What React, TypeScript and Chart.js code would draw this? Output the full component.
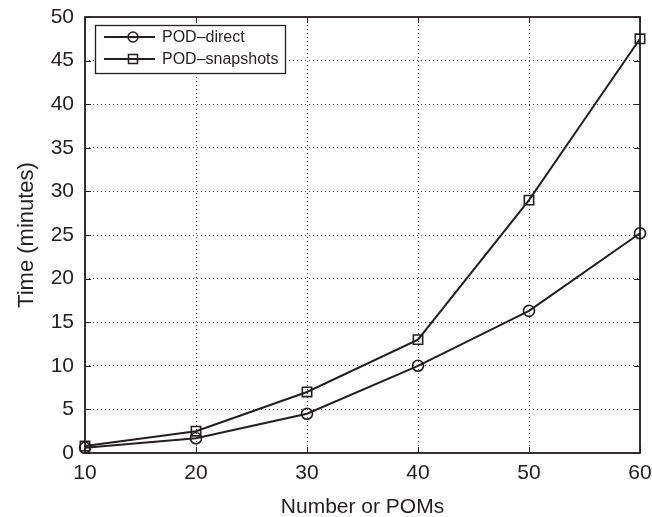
import React, { useEffect, useRef } from "react";
import { Chart, registerables } from "chart.js";

Chart.register(...registerables);

const xValues = [10, 20, 30, 40, 50, 60];
const podDirect = [0.6, 1.7, 4.5, 10.0, 16.3, 25.2];
const podSnapshots = [0.8, 2.5, 7.0, 13.0, 29.0, 47.5];
const seriesNames = ["POD\u2013direct", "POD\u2013snapshots"];
const xTitle = "Number or POMs";
const yTitle = "Time (minutes)";

const INK = "#231f20";
const FONT = "'Liberation Sans', Arial, sans-serif";

const boxTicksPlugin = {
  id: "boxTicks",
  afterDraw(chart: any) {
    const { ctx, chartArea: a, scales } = chart;
    ctx.save();
    ctx.strokeStyle = INK;
    ctx.lineWidth = 1;
    const L = 6;
    scales.x.ticks.forEach((t: any) => {
      const px = Math.round(scales.x.getPixelForValue(t.value)) + 0.5;
      ctx.beginPath();
      ctx.moveTo(px, a.bottom);
      ctx.lineTo(px, a.bottom - L);
      ctx.moveTo(px, a.top);
      ctx.lineTo(px, a.top + L);
      ctx.stroke();
    });
    scales.y.ticks.forEach((t: any) => {
      const py = Math.round(scales.y.getPixelForValue(t.value)) + 0.5;
      ctx.beginPath();
      ctx.moveTo(a.left, py);
      ctx.lineTo(a.left + L, py);
      ctx.moveTo(a.right, py);
      ctx.lineTo(a.right - L, py);
      ctx.stroke();
    });
    // box
    ctx.lineWidth = 1.8;
    ctx.strokeRect(a.left, a.top, a.right - a.left, a.bottom - a.top);

    // legend
    const lx = a.left + 10;
    const ly = a.top + 8;
    const lw = 190;
    const lh = 48;
    ctx.fillStyle = "#ffffff";
    ctx.fillRect(lx, ly, lw, lh);
    ctx.lineWidth = 1.3;
    ctx.strokeRect(lx + 0.5, ly + 0.5, lw, lh);
    ctx.font = `16px ${FONT}`;
    ctx.textBaseline = "middle";
    ctx.textAlign = "left";
    chart.data.datasets.forEach((ds: any, i: number) => {
      const y = ly + 12 + i * 22;
      ctx.strokeStyle = INK;
      ctx.lineWidth = 1.8;
      ctx.beginPath();
      ctx.moveTo(lx + 9, y);
      ctx.lineTo(lx + 60, y);
      ctx.stroke();
      const cx = lx + 38;
      ctx.lineWidth = 1.5;
      ctx.beginPath();
      if (ds.pointStyle === "circle") {
        ctx.arc(cx, y, 5, 0, Math.PI * 2);
      } else {
        ctx.rect(cx - 4.5, y - 4.5, 9, 9);
      }
      ctx.stroke();
      ctx.fillStyle = INK;
      ctx.fillText(ds.label, lx + 67, y + 1);
    });
    ctx.restore();
  },
};

export default function App() {
  const ref = useRef<HTMLCanvasElement>(null);
  useEffect(() => {
    document.body.style.margin = "0";
    const mk = (label: string, data: number[], style: string, r: number) => ({
      label,
      data: xValues.map((x, i) => ({ x, y: data[i] })),
      borderColor: INK,
      backgroundColor: "rgba(0,0,0,0)",
      borderWidth: 2,
      pointStyle: style,
      pointRadius: r,
      pointBorderWidth: 1.6,
      pointBorderColor: INK,
      pointBackgroundColor: "rgba(0,0,0,0)",
      tension: 0,
      clip: false as any,
    });
    const chart = new Chart(ref.current!, {
      type: "line",
      data: {
        datasets: [
          mk(seriesNames[0], podDirect, "circle", 5.5),
          mk(seriesNames[1], podSnapshots, "rect", 6.6),
        ],
      },
      options: {
        responsive: false,
        animation: false,
        layout: { padding: { top: 17, right: 12, left: 0, bottom: 0 } },
        plugins: { legend: { display: false }, tooltip: { enabled: false } },
        scales: {
          x: {
            type: "linear",
            min: 10,
            max: 60,
            ticks: {
              stepSize: 10,
              color: INK,
              font: { family: FONT, size: 21 },
              padding: 8,
            },
            grid: {
              color: "#444",
              lineWidth: 1,
              drawTicks: false,
              tickLength: 0,
            },
            border: { display: false, dash: [1, 3] },
            title: {
              display: true,
              text: xTitle,
              color: INK,
              font: { family: FONT, size: 21 },
              padding: { top: 4, bottom: -3 },
            },
            afterFit: (s: any) => {
              s.height = 64;
              s.paddingLeft = 0;
              s.paddingRight = 0;
            },
          } as any,
          y: {
            type: "linear",
            min: 0,
            max: 50,
            ticks: {
              stepSize: 5,
              color: INK,
              font: { family: FONT, size: 21 },
              padding: 11,
            },
            grid: { color: "#444", lineWidth: 1, drawTicks: false, tickLength: 0 },
            border: { display: false, dash: [1, 3] },
            title: {
              display: true,
              text: yTitle,
              color: INK,
              font: { family: FONT, size: 22 },
              padding: { top: 14, bottom: 0 },
            },
            afterFit: (s: any) => {
              s.width = 85;
              s.paddingTop = 0;
              s.paddingBottom = 0;
            },
          } as any,
        },
      },
      plugins: [boxTicksPlugin],
    });
    return () => chart.destroy();
  }, []);
  return (
    <div style={{ position: "absolute", left: 0, top: 0, width: 652, height: 517, background: "#fff" }}>
      <canvas ref={ref} width={652} height={517} />
    </div>
  );
}
